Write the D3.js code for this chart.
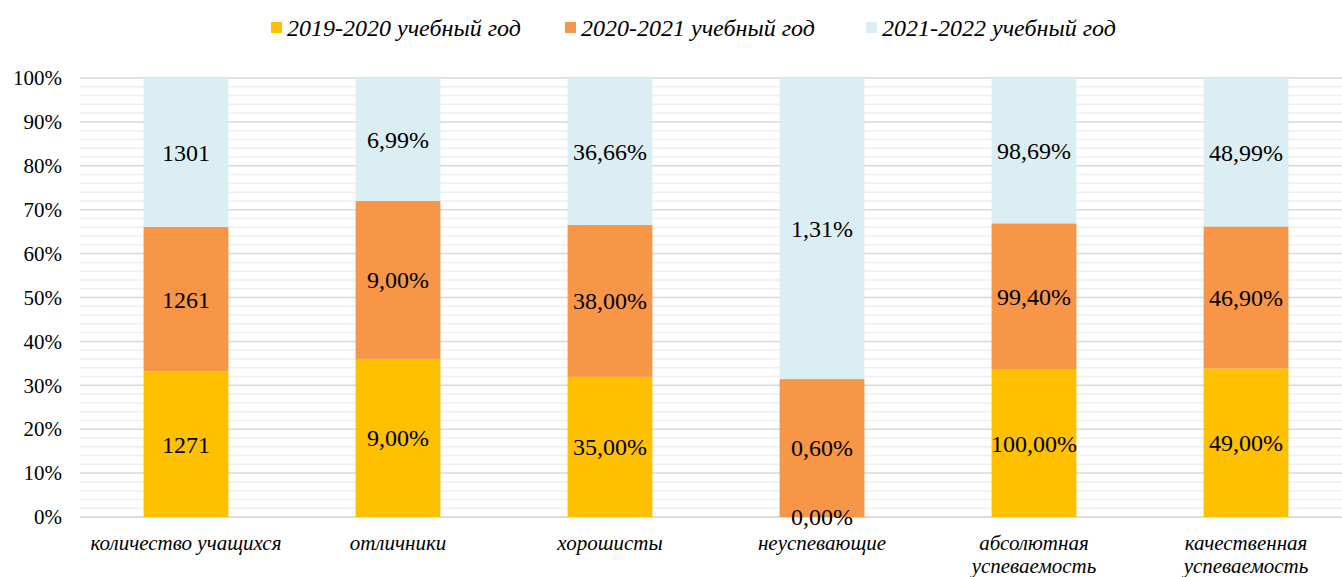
<!DOCTYPE html>
<html>
<head>
<meta charset="utf-8">
<script src="https://cdn.jsdelivr.net/npm/d3@7"></script>
<style>
  body { margin: 0; background: #fff; }
  svg text { font-family: "Liberation Serif", "Times New Roman", "DejaVu Serif", serif; fill: #000; }
</style>
</head>
<body>
<svg id="chart" width="1342" height="577"></svg>
<script>
// data
var categories = ["количество учащихся", "отличники", "хорошисты", "неуспевающие", "абсолютная успеваемость", "качественная успеваемость"];
var seriesNames = ["2019-2020 учебный год", "2020-2021 учебный год", "2021-2022 учебный год"];
var v2019 = [1271, 9.00, 35.00, 0.00, 100.00, 49.00];
var v2020 = [1261, 9.00, 38.00, 0.60, 99.40, 46.90];
var v2021 = [1301, 6.99, 36.66, 1.31, 98.69, 48.99];
var isCount = [true, false, false, false, false, false];
var colors = ["#FFC000", "#F79646", "#DAEEF3"];
var yTicks = [0, 0.1, 0.2, 0.3, 0.4, 0.5, 0.6, 0.7, 0.8, 0.9, 1.0];

var serif = '"Liberation Serif", "Times New Roman", "DejaVu Serif", serif';
var svg = d3.select("#chart");
var plotTop = 78, plotBottom = 517, plotLeft = 80, plotRight = 1352;

var x = d3.scaleBand().domain(categories).range([plotLeft, plotRight]).paddingInner(0.6).paddingOuter(0.3);
var y = d3.scaleLinear().domain([0, 1]).range([plotBottom, plotTop]);

// build stacked (normalised) rows
var rows = categories.map(function(c, i) {
  return { cat: c, i: i, vals: [v2019[i], v2020[i], v2021[i]] };
});
var stack = d3.stack()
  .keys([0, 1, 2])
  .value(function(d, k) { return d.vals[k]; })
  .offset(d3.stackOffsetExpand);
var layers = stack(rows);

// minor gridlines
var minor = d3.range(0, 1.0001, 0.02).filter(function(t) { return Math.round(t * 100) % 10 !== 0; });
svg.append("g").selectAll("line").data(minor).join("line")
  .attr("x1", plotLeft).attr("x2", plotRight)
  .attr("y1", function(d) { return y(d); }).attr("y2", function(d) { return y(d); })
  .attr("stroke", "#efefef").attr("stroke-width", 1.5);

// major gridlines
svg.append("g").selectAll("line").data(yTicks).join("line")
  .attr("x1", plotLeft).attr("x2", plotRight)
  .attr("y1", function(d) { return y(d); }).attr("y2", function(d) { return y(d); })
  .attr("stroke", function(d) { return d === 0 ? "#d0d0d0" : "#d9d9d9"; })
  .attr("stroke-width", 1.5);

// y axis labels
var yAxis = d3.axisLeft(y).tickValues(yTicks).tickSize(0).tickPadding(18)
  .tickFormat(function(d) { return Math.round(d * 100) + "%"; });
var gy = svg.append("g").attr("transform", "translate(" + plotLeft + ",0)").call(yAxis);
gy.select(".domain").remove();
gy.attr("font-family", null);
gy.selectAll("text").style("font-size", "21px").style("font-family", serif);

// bars
svg.append("g").selectAll("g").data(layers).join("g")
  .attr("fill", function(d, k) { return colors[k]; })
  .selectAll("rect").data(function(d) { return d; }).join("rect")
  .attr("x", function(d) { return x(d.data.cat); })
  .attr("width", x.bandwidth())
  .attr("y", function(d) { return y(d[1]); })
  .attr("height", function(d) { return y(d[0]) - y(d[1]); });

// data labels
function fmt(v, i) {
  if (isCount[i]) return String(v);
  return v.toFixed(2).replace(".", ",") + "%";
}
layers.forEach(function(layer, k) {
  svg.append("g").selectAll("text").data(layer).join("text")
    .attr("x", function(d) { return x(d.data.cat) + x.bandwidth() / 2; })
    .attr("y", function(d) { return y((d[0] + d[1]) / 2); })
    .attr("dy", "0.35em")
    .attr("text-anchor", "middle")
    .style("font-family", serif)
    .style("font-size", "24px")
    .text(function(d) { return fmt(d.data.vals[k], d.data.i); });
});

// category labels
var xAxis = d3.axisBottom(x).tickSize(0).tickPadding(0);
var gx = svg.append("g").attr("transform", "translate(0," + plotBottom + ")").call(xAxis);
gx.select(".domain").remove();
gx.attr("font-family", null);
gx.selectAll("text").remove();
gx.selectAll(".tick").each(function(d) {
  var words = d.split(" ");
  var lines = words.length > 1 && d !== "количество учащихся" ? words : [d];
  var t = d3.select(this).append("text")
    .attr("text-anchor", "middle")
    .style("font-size", "21px")
    .style("font-style", "italic")
    .style("font-family", serif);
  lines.forEach(function(l, j) {
    t.append("tspan").attr("x", 0).attr("y", 33 + j * 23).text(l);
  });
});

// legend
var legendX = [271, 565, 866];
var lg = svg.append("g").selectAll("g").data(seriesNames).join("g")
  .attr("transform", function(d, k) { return "translate(" + legendX[k] + ",22)"; });
lg.append("rect").attr("width", 11).attr("height", 11).attr("y", 0)
  .attr("fill", function(d, k) { return colors[k]; });
lg.append("text").attr("x", 16).attr("y", 6).attr("dy", "0.35em")
  .style("font-family", serif)
  .style("font-size", "24px").style("font-style", "italic")
  .text(function(d) { return d; });
</script>
</body>
</html>
